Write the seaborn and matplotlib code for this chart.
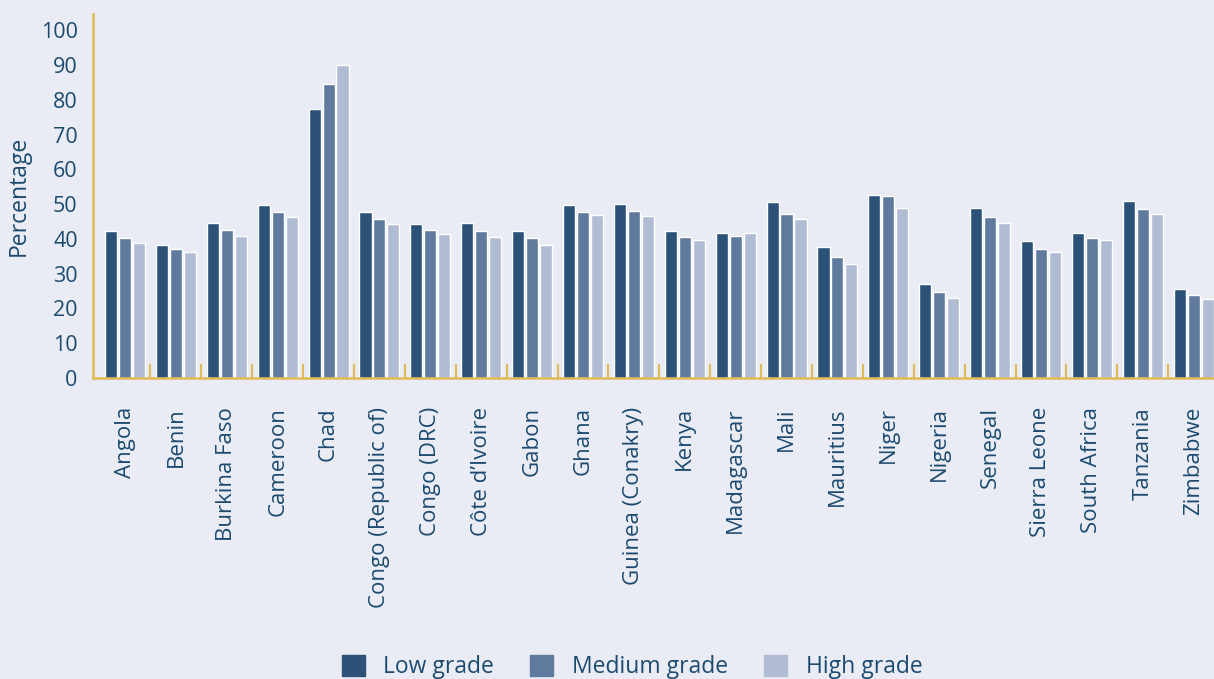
import numpy as np
import pandas as pd
import matplotlib
matplotlib.use("Agg")
import matplotlib.pyplot as plt
import seaborn as sns

countries = ["Angola", "Benin", "Burkina Faso", "Cameroon", "Chad",
             "Congo (Republic of)", "Congo (DRC)", "Côte d’Ivoire", "Gabon",
             "Ghana", "Guinea (Conakry)", "Kenya", "Madagascar", "Mali",
             "Mauritius", "Niger", "Nigeria", "Senegal", "Sierra Leone",
             "South Africa", "Tanzania", "Zimbabwe"]
low_grade = [42.2, 38.2, 44.6, 49.8, 77.5, 47.8, 44.3, 44.6, 42.2, 49.8,
             50.1, 42.2, 41.7, 50.7, 37.7, 52.7, 27.0, 48.9, 39.4, 41.7,
             51.0, 25.6]
medium_grade = [40.2, 37.1, 42.6, 47.8, 84.7, 45.8, 42.6, 42.3, 40.2, 47.8,
                48.1, 40.5, 40.9, 47.2, 34.8, 52.4, 24.7, 46.3, 37.1, 40.3,
                48.6, 23.9]
high_grade = [38.8, 36.1, 40.9, 46.3, 90.1, 44.3, 41.4, 40.6, 38.2, 46.9,
              46.6, 39.7, 41.7, 45.8, 32.8, 48.9, 23.0, 44.6, 36.1, 39.7,
              47.2, 22.8]
series_names = ["Low grade", "Medium grade", "High grade"]
y_ticks = [0, 10, 20, 30, 40, 50, 60, 70, 80, 90, 100]

df = pd.DataFrame({
    "country": countries * 3,
    "value": low_grade + medium_grade + high_grade,
    "grade": [series_names[0]] * len(countries) + [series_names[1]] * len(countries)
             + [series_names[2]] * len(countries),
})

bg = "#e9ecf4"
gold = "#e1b955"
txt = "#1d4a6f"
palette = ["#2c5278", "#5f7a9c", "#b0bcd4"]

sns.set_theme(style="white")
plt.rcParams["font.family"] = ["Open Sans", "DejaVu Sans"]

fig = plt.figure(figsize=(12.14, 6.79), dpi=100, facecolor=bg)
ax = fig.add_axes([93 / 1214, 1 - 378 / 679, 1 - 93 / 1214, (378 - 14) / 679])
ax.set_facecolor(bg)

sns.barplot(data=df, x="country", y="value", hue="grade", palette=palette,
            width=0.82, gap=0.13, saturation=1, ax=ax, legend=False)

ax.set_xlim(-0.629, 21.40)
ax.set_ylim(0, 104.7)
ax.set_yticks(y_ticks)
ax.set_yticklabels([str(v) for v in y_ticks], fontsize=15.5, color=txt)
ax.tick_params(axis="y", length=0, pad=11)

ax.set_xticks(range(len(countries)))
ax.set_xticklabels(countries, rotation=90, ha="center", va="top", fontsize=16, color=txt)
ax.tick_params(axis="x", which="major", length=0, pad=21)
ax.set_xticks(np.arange(0.5, len(countries) - 1, 1), minor=True)
ax.tick_params(axis="x", which="minor", direction="in", length=10, width=1.5,
               color=gold, bottom=True)

ax.set_xlabel("")
ax.set_ylabel("Percentage", fontsize=16.5, color=txt, labelpad=7)

for s in ["top", "right"]:
    ax.spines[s].set_visible(False)
for s in ["left", "bottom"]:
    ax.spines[s].set_visible(True)
    ax.spines[s].set_color(gold)
    ax.spines[s].set_linewidth(1.8)
ax.grid(False)

handles = [plt.Rectangle((0, 0), 1, 1, color=c) for c in palette]
fig.legend(handles, series_names, loc="center", bbox_to_anchor=(632 / 1214, 0.018),
           ncol=3, frameon=False, fontsize=16.5, labelcolor=txt,
           handlelength=1.0, handleheight=1.05, handletextpad=0.8,
           columnspacing=1.6, borderaxespad=0)

fig.savefig("out.png", dpi=100, facecolor=bg)
